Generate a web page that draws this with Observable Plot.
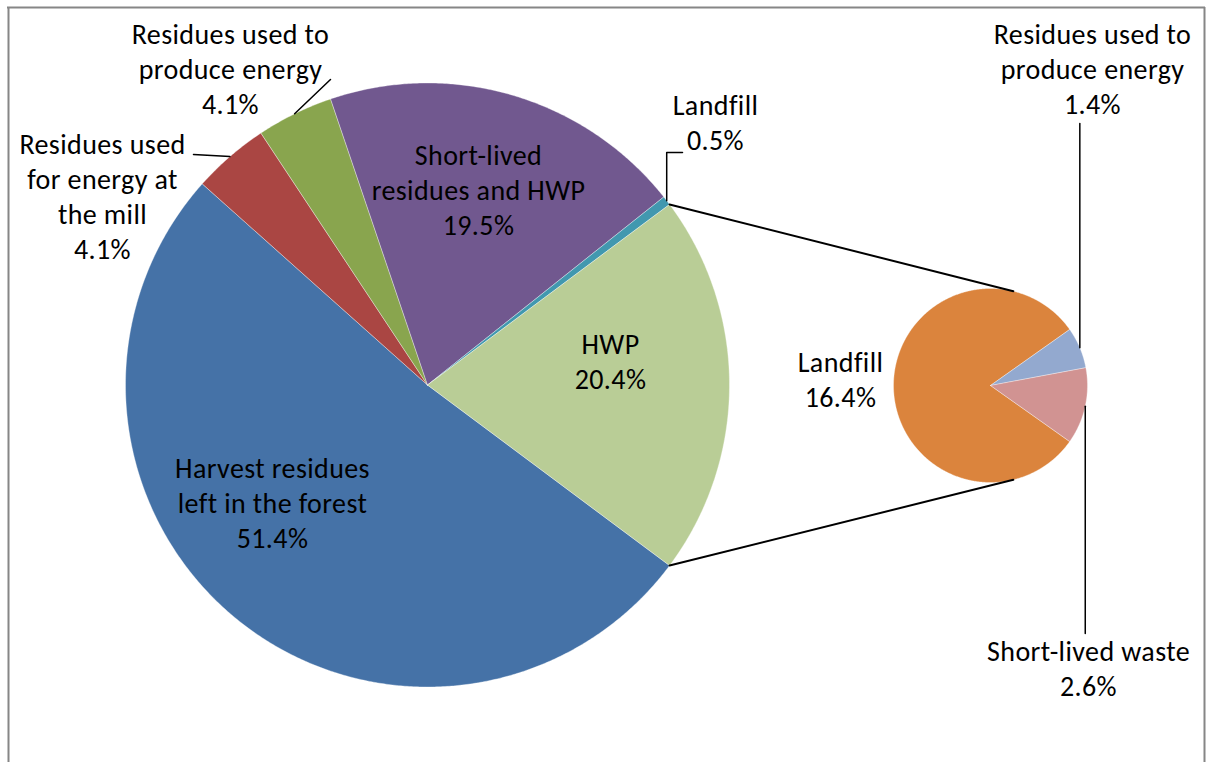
<!DOCTYPE html>
<html><head><meta charset="utf-8">
<script src="https://cdn.jsdelivr.net/npm/d3@7"></script>
<script src="https://cdn.jsdelivr.net/npm/@observablehq/plot@0.6"></script>
<style>body{margin:0;background:#fff} #chart svg{display:block} #chart svg text{letter-spacing:0.4px}</style>
</head><body><div id="chart"></div>
<script>
// ---- data ----
const mainCategories = ["Harvest residues left in the forest", "Residues used for energy at the mill", "Residues used to produce energy", "Short-lived residues and HWP", "Landfill", "HWP"];
const mainValues = [51.4, 4.1, 4.1, 19.5, 0.5, 20.4];
const mainLabelLines = [["Harvest residues", "left in the forest"], ["Residues used", "for energy at", "the mill"], ["Residues used to", "produce energy"], ["Short-lived", "residues and HWP"], ["Landfill"], ["HWP"]];
const subCategories = ["Landfill", "Residues used to produce energy", "Short-lived waste"];
const subValues = [16.4, 1.4, 2.6];
const subLabelLines = [["Landfill"], ["Residues used to", "produce energy"], ["Short-lived waste"]];
const mainColors = ["#4572A7", "#AA4643", "#89A54E", "#71588F", "#4198AF", "#B9CD96"];
const subColors = ["#DB843D", "#93A9CF", "#D19392"];

// ---- layout ----
const W = 1208, H = 762;
const deg = Math.PI / 180;
const mainPie = {cx: 427, cy: 384.5, r: 302};
const subPie = {cx: 990, cy: 385, r: 97};
const otherIndex = 5;                 // main slice expanded into the secondary pie
const connectorSubAngles = [13.6, 166.4];
const mainLabelPos = [[272, 505], [102, 199], [230, 71], [478, 192], [715, 125], [610, 364]];
const subLabelPos = [[840, 382], [1092, 71], [1088, 671]];
const mainLeaders = [{i: 2, pts: [[330, 79]]}, {i: 1, pts: [[193, 154]]}, {i: 4, pts: [[null, 152], [682, 152]]}];
const subLeaders = [{i: 1, pts: [[null, 123]]}, {i: 2, pts: [[null, 633]]}];
const FONT = "Carlito, Calibri, Lato, sans-serif";

// ---- geometry ----
const total = d3.sum(mainValues);
const otherSpan = mainValues[otherIndex] / total * 2 * Math.PI;
const before = d3.sum(mainValues.slice(0, otherIndex)) / total * 2 * Math.PI;
// "other" slice centred at 3 o'clock; slices run clockwise
const startMain = (90 * deg - otherSpan / 2) - before;
const mainArcs = d3.pie().sort(null).startAngle(startMain).endAngle(startMain + 2 * Math.PI)(mainValues);
const subTotal = d3.sum(subValues);
const subSpan0 = subValues[0] / subTotal * 2 * Math.PI;
const startSub = 270 * deg - subSpan0 / 2;
const subArcs = d3.pie().sort(null).startAngle(startSub).endAngle(startSub + 2 * Math.PI)(subValues);

const pt = (p, a, rr = p.r) => [p.cx + rr * Math.sin(a), p.cy - rr * Math.cos(a)];

function slicePolys(p, arcs, prefix) {
  const out = [];
  arcs.forEach((a, i) => {
    const key = prefix + i;
    out.push({key, x: p.cx, y: p.cy});
    const n = Math.max(2, Math.ceil((a.endAngle - a.startAngle) / (0.4 * deg)));
    for (let k = 0; k <= n; k++) {
      const ang = a.startAngle + (a.endAngle - a.startAngle) * k / n;
      const [x, y] = pt(p, ang);
      out.push({key, x, y});
    }
    out.push({key, x: p.cx, y: p.cy});
  });
  return out;
}
const polys = [...slicePolys(mainPie, mainArcs, "m"), ...slicePolys(subPie, subArcs, "s")];
const keys = [...mainValues.map((_, i) => "m" + i), ...subValues.map((_, i) => "s" + i)];

const fmt = v => v.toFixed(1) + "%";
const labels = [
  ...mainValues.map((v, i) => ({x: mainLabelPos[i][0], y: mainLabelPos[i][1], text: [...mainLabelLines[i], fmt(v)].join("\n")})),
  ...subValues.map((v, i) => ({x: subLabelPos[i][0], y: subLabelPos[i][1], text: [...subLabelLines[i], fmt(v)].join("\n")}))
];

// connector lines
const oa = mainArcs[otherIndex];
const connectors = [];
[[oa.startAngle, connectorSubAngles[0]], [oa.endAngle, connectorSubAngles[1]]].forEach(([ma, sa], j) => {
  const [x1, y1] = pt(mainPie, ma), [x2, y2] = pt(subPie, sa * deg);
  connectors.push({id: "c" + j, x: x1, y: y1}, {id: "c" + j, x: x2, y: y2});
});
// leader lines
const leaders = [];
function addLeaders(p, arcs, list, prefix) {
  list.forEach(({i, pts}) => {
    const a = arcs[i];
    const [sx, sy] = pt(p, (a.startAngle + a.endAngle) / 2);
    const id = prefix + i;
    leaders.push({id, x: sx, y: sy});
    pts.forEach(([x, y]) => leaders.push({id, x: x == null ? sx : x, y: y == null ? sy : y}));
  });
}
addLeaders(mainPie, mainArcs, mainLeaders, "lm");
addLeaders(subPie, subArcs, subLeaders, "ls");

const chart = Plot.plot({
  width: W, height: H, margin: 0,
  x: {domain: [0, W], range: [0, W], axis: null},
  y: {domain: [0, H], range: [0, H], axis: null},
  color: {domain: keys, range: [...mainColors, ...subColors]},
  style: {background: "white", fontFamily: FONT},
  marks: [
    Plot.ruleX([8], {y1: 7, y2: H, stroke: "#868686", strokeWidth: 2}),
    Plot.ruleX([1204], {y1: 7, y2: H, stroke: "#868686", strokeWidth: 2}),
    Plot.ruleY([7], {x1: 7, x2: 1205, stroke: "#868686", strokeWidth: 2}),
    Plot.line(polys, {x: "x", y: "y", z: "key", fill: "key", stroke: "white", strokeWidth: 0.5, strokeOpacity: 0.7}),
    Plot.line(connectors, {x: "x", y: "y", z: "id", stroke: "black", strokeWidth: 2}),
    Plot.line(leaders, {x: "x", y: "y", z: "id", stroke: "black", strokeWidth: 1.5}),
    Plot.text(labels, {x: "x", y: "y", text: "text", fontSize: 28, lineHeight: 1.25, dy: -4, fill: "black", fontFamily: FONT})
  ]
});
document.getElementById("chart").appendChild(chart);
</script></body></html>
